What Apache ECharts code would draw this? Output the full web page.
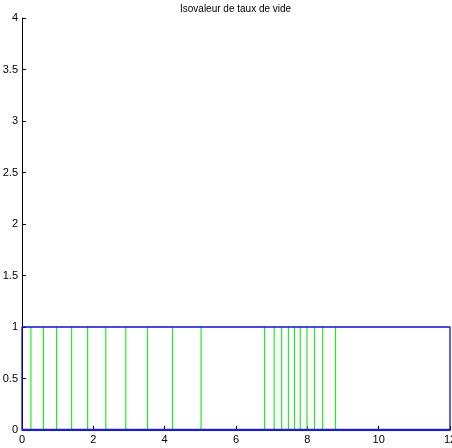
<!DOCTYPE html>
<html>
<head>
<meta charset="utf-8">
<script src="https://cdn.jsdelivr.net/npm/echarts@6/dist/echarts.min.js"></script>
<style>html,body{margin:0;padding:0;background:#fff}#c{width:452px;height:448px}</style>
</head>
<body>
<div id="c"></div>
<script>
var titleText = 'Isovaleur de taux de vide';
var isoX = [0.25, 0.60, 0.97, 1.39, 1.84, 2.35, 2.91, 3.52, 4.22, 5.02,
            6.80, 7.07, 7.28, 7.47, 7.64, 7.80, 7.99, 8.20, 8.43, 8.79];
var isoYBottom = 0;
var isoYTop = 1;
var boxX = [0, 12, 12, 0, 0];
var boxY = [0, 0, 1, 1, 0];
var xMin = 0, xMax = 12, xStep = 2;
var yMin = 0, yMax = 4, yStep = 0.5;

var isoData = [];
isoX.forEach(function (x) {
  isoData.push([x, isoYBottom]);
  isoData.push([x, isoYTop]);
  isoData.push(null);
});
var boxData = boxX.map(function (x, i) { return [x, boxY[i]]; });

var chart = echarts.init(document.getElementById('c'), null, {renderer: 'canvas'});
var fontFam = 'Liberation Sans, Arial, sans-serif';
chart.setOption({
  animation: false,
  backgroundColor: '#ffffff',
  title: {
    text: titleText, left: 180, top: 4, padding: 0,
    textStyle: {fontFamily: fontFam, fontSize: 10, fontWeight: 'normal', color: '#000'}
  },
  grid: {left: 22, right: 2, top: 18, bottom: 18, containLabel: false, outerBoundsMode: 'none'},
  xAxis: {
    type: 'value', min: xMin, max: xMax, interval: xStep,
    axisLine: {show: true, lineStyle: {color: '#000', width: 1}},
    axisTick: {show: true, inside: true, length: 4, lineStyle: {color: '#000'}},
    axisLabel: {fontFamily: fontFam, fontSize: 11, color: '#000', margin: 4},
    splitLine: {show: false}
  },
  yAxis: {
    type: 'value', min: yMin, max: yMax, interval: yStep,
    axisLine: {show: true, lineStyle: {color: '#000', width: 1}},
    axisTick: {show: true, inside: true, length: 4, lineStyle: {color: '#000'}},
    axisLabel: {fontFamily: fontFam, fontSize: 11, color: '#000', margin: 4},
    splitLine: {show: false}
  },
  series: [
    {
      type: 'line', data: isoData, connectNulls: false, symbol: 'none',
      lineStyle: {color: '#22ee22', width: 1.2}, silent: true, z: 2
    },
    {
      type: 'line', data: boxData, symbol: 'none',
      lineStyle: {color: '#1010d0', width: 1.3}, silent: true, z: 3
    },
    {
      type: 'line', data: [[boxX[0], boxY[0]], [boxX[1], boxY[1]]], symbol: 'none',
      lineStyle: {color: '#2020c0', width: 2.5}, silent: true, z: 4
    }
  ]
});
</script>
</body>
</html>
